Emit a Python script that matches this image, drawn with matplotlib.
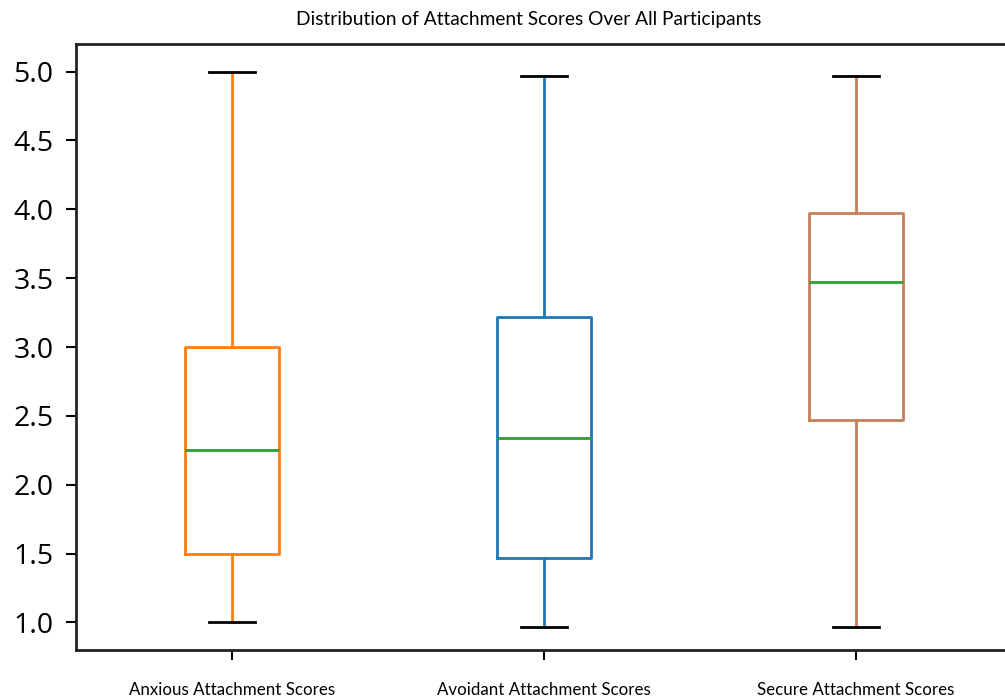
import matplotlib
matplotlib.use("Agg")
from matplotlib import pyplot as plt

labels = ["Anxious Attachment Scores", "Avoidant Attachment Scores", "Secure Attachment Scores"]
whislo = [1.0, 0.97, 0.97]
q1 = [1.5, 1.47, 2.47]
med = [2.25, 2.34, 3.47]
q3 = [3.0, 3.22, 3.97]
whishi = [5.0, 4.97, 4.97]
colors = ["#ff7f0e", "#1f77b4", "#c47f5b"]

stats = []
for i in range(len(labels)):
    stats.append({"label": labels[i], "whislo": whislo[i], "q1": q1[i], "med": med[i],
                  "q3": q3[i], "whishi": whishi[i], "fliers": []})

fig = plt.figure(figsize=(10.05, 7), dpi=100)
ax = fig.add_axes([76 / 1005, 50 / 700, 936 / 1005, 606 / 700])

for i, s in enumerate(stats):
    ax.bxp([s], positions=[i + 1], widths=0.3, showfliers=False,
           boxprops=dict(color=colors[i], linewidth=2),
           whiskerprops=dict(color=colors[i], linewidth=2),
           capprops=dict(color="black", linewidth=2),
           medianprops=dict(color="#2ca02c", linewidth=2))

ax.set_xlim(0.5, 3.5)
ax.set_ylim(0.8, 5.2)
ax.set_yticks([1.0, 1.5, 2.0, 2.5, 3.0, 3.5, 4.0, 4.5, 5.0])
ax.set_yticklabels(["1.0", "1.5", "2.0", "2.5", "3.0", "3.5", "4.0", "4.5", "5.0"],
                   fontsize=20.5, family="Open Sans")
ax.set_xticks([1, 2, 3])
ax.set_xticklabels(labels, fontsize=12.2, family="Lato")
ax.tick_params(axis="x", pad=16, length=7, width=1.5)
ax.tick_params(axis="y", pad=9, length=7, width=1.5)
for sp in ax.spines.values():
    sp.set_linewidth(2)
    sp.set_color("#222222")

fig.text(529 / 1005, 1 - 19 / 700, "Distribution of Attachment Scores Over All Participants",
         ha="center", va="center", fontsize=13.8, family="Lato")

fig.savefig("out.png", dpi=100)
